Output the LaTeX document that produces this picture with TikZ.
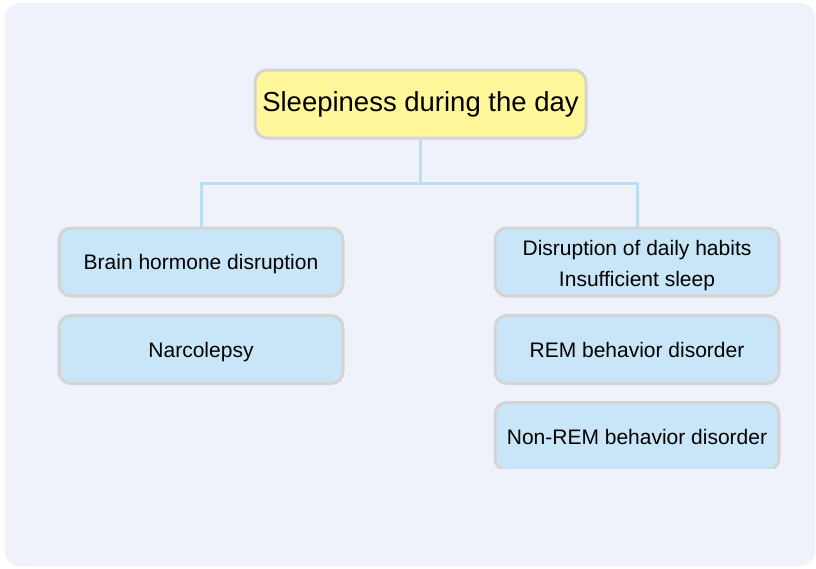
\documentclass[tikz,border=0pt]{standalone}
\usepackage{fontspec}
\setmainfont{Liberation Sans}
\definecolor{bgpanel}{HTML}{EFF2FA}
\definecolor{rootfill}{HTML}{FFF799}
\definecolor{causefill}{HTML}{C8E6F8}
\definecolor{boxline}{HTML}{D4D4D4}
\definecolor{linkblue}{HTML}{BBDDF5}
\tikzset{
  causebox/.style={draw=boxline, line width=3pt, fill=causefill, rounded corners=12pt,
    minimum width=284pt, minimum height=68pt, inner sep=0pt, align=center,
    font=\fontsize{21}{31}\selectfont,
    execute at begin node={\rule[-6pt]{0pt}{27.6pt}}},
  rootbox/.style={causebox, fill=rootfill, minimum width=331pt,
    font=\fontsize{27.5}{33}\selectfont,
    execute at begin node={\rule[-7pt]{0pt}{28pt}}},
  link/.style={draw=linkblue, line width=3pt}
}
\begin{document}
\begin{tikzpicture}[x=1pt,y=-1pt]
        \useasboundingbox (0,0) rectangle (816,568);
        % fond
        \fill[bgpanel, rounded corners=15pt] (5,3) rectangle (815,566);
        % racine
        \node (root) [rootbox] at (420.5,104) {Sleepiness during the day};
        % causes
        \node (brain) [causebox] at (201,262) {Brain hormone disruption};
        \node (narco) [causebox] at (201,349.5) {Narcolepsy};
        \node (habits) [causebox] at (637,262) {\rule{0pt}{24pt}Disruption of daily habits\\Insufficient sleep};
        \node (rem) [causebox] at (637,349.5) {REM behavior disorder};
        \begin{scope}
          \clip (480,395) rectangle (800,468);
          \node (nrem) [causebox] at (637,436.5) {Non-REM behavior disorder};
        \end{scope}
        % liens
        \path (root.south) ++(0,44) coordinate (fork);
        \draw[link] (root.south) -- (fork);
        \draw[link] (brain.north) |- (fork) -| (habits.north);
      \end{tikzpicture}
\end{document}
